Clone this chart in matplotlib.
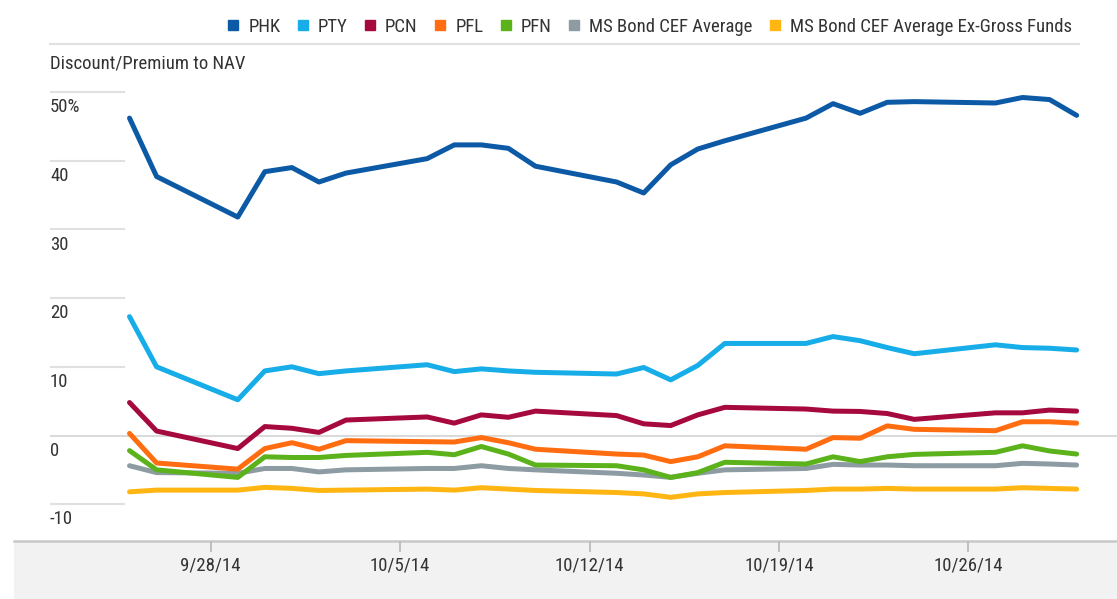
import matplotlib
matplotlib.use("Agg")
import matplotlib.pyplot as plt
import matplotlib.dates as mdates
import matplotlib.transforms as mtransforms
from matplotlib.lines import Line2D
from matplotlib.patches import Rectangle
from matplotlib import font_manager
import pandas as pd

# ---------------- data ----------------
dates = ["2014-09-25", "2014-09-26", "2014-09-29", "2014-09-30", "2014-10-01", "2014-10-02",
         "2014-10-03", "2014-10-06", "2014-10-07", "2014-10-08", "2014-10-09", "2014-10-10",
         "2014-10-13", "2014-10-14", "2014-10-15", "2014-10-16", "2014-10-17", "2014-10-20",
         "2014-10-21", "2014-10-22", "2014-10-23", "2014-10-24", "2014-10-27", "2014-10-28",
         "2014-10-29", "2014-10-30"]

phk = [46.2, 37.7, 31.8, 38.4, 39.0, 36.9, 38.2, 40.3, 42.3, 42.3, 41.8, 39.2, 36.9,
       35.3, 39.4, 41.7, 42.9, 46.2, 48.3, 46.9, 48.5, 48.6, 48.4, 49.2, 48.9, 46.6]
pty = [17.3, 10.0, 5.2, 9.4, 10.0, 9.0, 9.4, 10.3, 9.3, 9.7, 9.4, 9.2, 8.95,
       9.9, 8.1, 10.2, 13.4, 13.4, 14.4, 13.8, 12.8, 11.9, 13.2, 12.8, 12.7, 12.45]
pcn = [4.8, 0.65, -1.9, 1.3, 1.05, 0.45, 2.25, 2.7, 1.8, 3.0, 2.65, 3.55, 2.9,
       1.7, 1.45, 3.0, 4.1, 3.85, 3.55, 3.5, 3.2, 2.35, 3.3, 3.3, 3.7, 3.55]
pfl = [0.3, -4.0, -4.9, -1.9, -1.05, -2.0, -0.75, -0.9, -0.95, -0.3, -1.05, -2.0, -2.7,
       -2.85, -3.8, -3.1, -1.5, -2.0, -0.3, -0.4, 1.4, 0.9, 0.7, 2.0, 2.0, 1.8]
pfn = [-2.2, -5.0, -6.1, -3.1, -3.2, -3.2, -2.9, -2.45, -2.8, -1.6, -2.7, -4.3, -4.4,
       -5.0, -6.1, -5.4, -3.9, -4.15, -3.1, -3.8, -3.1, -2.75, -2.45, -1.5, -2.25, -2.7]
ms_avg = [-4.4, -5.4, -5.5, -4.8, -4.8, -5.3, -5.0, -4.8, -4.8, -4.4, -4.8, -5.0, -5.5,
          -5.75, -6.1, -5.5, -5.0, -4.8, -4.2, -4.3, -4.3, -4.4, -4.4, -4.05, -4.15, -4.3]
ms_ex = [-8.2, -7.95, -7.95, -7.55, -7.7, -8.0, -7.95, -7.8, -7.95, -7.6, -7.8, -8.0, -8.3,
         -8.5, -9.0, -8.5, -8.3, -8.0, -7.8, -7.8, -7.7, -7.8, -7.8, -7.6, -7.7, -7.8]

series_names = ["PHK", "PTY", "PCN", "PFL", "PFN", "MS Bond CEF Average",
                "MS Bond CEF Average Ex-Gross Funds"]
series_values = [phk, pty, pcn, pfl, pfn, ms_avg, ms_ex]
series_colors = ["#0C59A6", "#17ADE8", "#A6093D", "#FF6D10", "#5CB21B", "#8D9BA3", "#FFB612"]

ytick_values = [50, 40, 30, 20, 10, 0, -10]
ytick_labels = ["50%", "40", "30", "20", "10", "0", "-10"]
xtick_dates = ["2014-09-28", "2014-10-05", "2014-10-12", "2014-10-19", "2014-10-26"]
xtick_labels = ["9/28/14", "10/5/14", "10/12/14", "10/19/14", "10/26/14"]
y_title = "Discount/Premium to NAV"

# ---------------- fonts ----------------
names = {f.name for f in font_manager.fontManager.ttflist}
fams = [n for n in ["Roboto Condensed", "Liberation Sans Narrow", "Open Sans Condensed"] if n in names]
if not fams:
    fams = ["Roboto"]
plt.rcParams["font.family"] = fams + ["DejaVu Sans"]
TXT = "#333333"

# ---------------- figure ----------------
W, H = 1117, 599
fig = plt.figure(figsize=(W / 100, H / 100), dpi=100)
fig.patch.set_facecolor("white")

# gray band under the axis
band = Rectangle((14 / W, 0), 1 - 14 / W, (H - 541) / H, transform=fig.transFigure,
                 facecolor="#F2F2F2", edgecolor="none", zorder=-5)
fig.patches.append(band)

ax = fig.add_axes([50 / W, (H - 541) / H, (W - 50) / W, (541 - 44) / H])
ax.patch.set_alpha(0)
ax.set_zorder(2)

x = mdates.date2num(pd.to_datetime(dates))
xt = mdates.date2num(pd.to_datetime(xtick_dates))

# axis limits (px calibration: 27.06 px/day, 6.87 px/unit)
ax.set_xlim(xt[0] - (210.7 - 50) / 27.06, xt[0] + (W - 210.7) / 27.06)
ax.set_ylim(-(541 - 435.5) / 6.87, (435.5 - 44) / 6.87)

for name, vals, col in list(zip(series_names, series_values, series_colors))[::-1]:
    ax.plot(x, vals, color=col, lw=3.6, solid_capstyle="round", solid_joinstyle="round",
            label=name, zorder=3)

# gridlines
short = (124 - 50) / (W - 50)
blend = mtransforms.blended_transform_factory(ax.transAxes, ax.transData)
for v, lab in zip(ytick_values, ytick_labels):
    if v == 0:
        ax.axhline(v, color="#DADADA", lw=1.5, zorder=1)
    else:
        ax.axhline(v, xmin=0, xmax=short, color="#E0E0E0", lw=1.5, zorder=1)
    ax.annotate(lab, xy=(0, v), xycoords=blend, xytext=(0, -4.5), textcoords="offset points",
                ha="left", va="top", fontsize=13.5, color=TXT)

for s in ax.spines.values():
    s.set_visible(False)
ax.set_yticks([])
ax.set_xticks(xt)
ax.set_xticklabels(xtick_labels, fontsize=13.5, color=TXT)
ax.tick_params(axis="x", direction="out", length=8, width=1.3, color="#BBBBBB", pad=3.5)

# baseline
fig.add_artist(Line2D([14 / W, 1], [(H - 541) / H] * 2, transform=fig.transFigure,
                      color="#C8C8C8", lw=1.8, zorder=1))
# top separator
fig.add_artist(Line2D([50 / W, 1079 / W], [(H - 44) / H] * 2, transform=fig.transFigure,
                      color="#E0E0E0", lw=1.5))

fig.text(50 / W, (H - 64) / H, y_title, ha="left", va="center", fontsize=13.5, color=TXT)

handles = [Line2D([], [], marker="s", ls="none", ms=7.5, color=c) for c in series_colors]
fig.legend(handles, series_names, loc="upper right", bbox_to_anchor=(1072 / W, (H - 18) / H),
           ncol=7, frameon=False, fontsize=13.5, handlelength=0.7, handletextpad=0.45,
           columnspacing=0.85, borderpad=0, borderaxespad=0, labelcolor=TXT)

fig.savefig("out.png", dpi=100)
